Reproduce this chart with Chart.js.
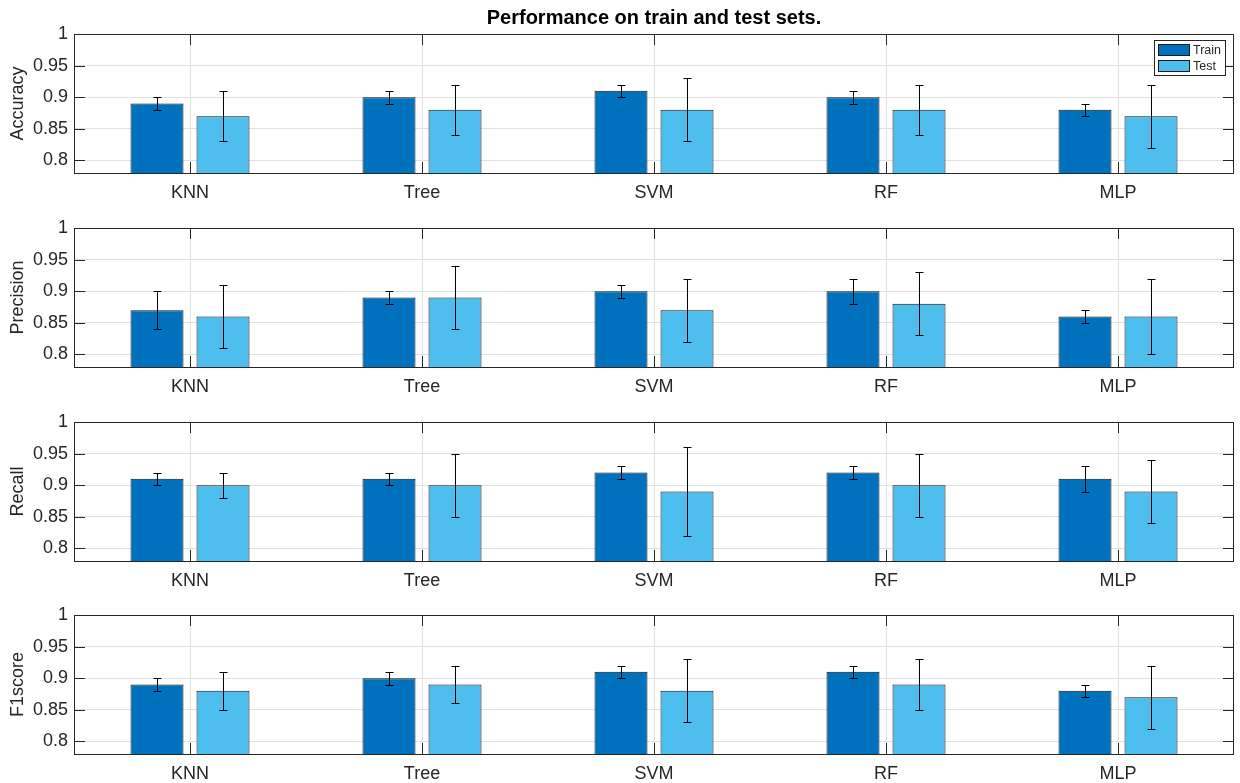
<!DOCTYPE html>
<html>
<head>
<meta charset="utf-8">
<script src="https://cdn.jsdelivr.net/npm/chart.js@4.4.1/dist/chart.umd.min.js"></script>
<style>
  html, body { margin: 0; padding: 0; background: #fff; overflow: hidden; }
  #wrap { position: relative; width: 1240px; height: 783px; overflow: hidden; background: #fff; }
  #wrap canvas { position: absolute; left: 0; }
</style>
</head>
<body>
<div id="wrap"></div>
<script>
// ---- data ----
const CATEGORIES = ['KNN', 'Tree', 'SVM', 'RF', 'MLP'];
const METRICS = ['Accuracy', 'Precision', 'Recall', 'F1score'];
const SERIES = ['Train', 'Test'];
const Y_TICKS = [0.8, 0.85, 0.9, 0.95, 1];
const Y_MIN = 0.78;
const Y_MAX = 1;

const accuracyTrain    = [0.89, 0.90, 0.91, 0.90, 0.88];
const accuracyTrainErr = [0.01, 0.01, 0.01, 0.01, 0.01];
const accuracyTest     = [0.87, 0.88, 0.88, 0.88, 0.87];
const accuracyTestErr  = [0.04, 0.04, 0.05, 0.04, 0.05];

const precisionTrain    = [0.87, 0.89, 0.90, 0.90, 0.86];
const precisionTrainErr = [0.03, 0.01, 0.01, 0.02, 0.01];
const precisionTest     = [0.86, 0.89, 0.87, 0.88, 0.86];
const precisionTestErr  = [0.05, 0.05, 0.05, 0.05, 0.06];

const recallTrain    = [0.91, 0.91, 0.92, 0.92, 0.91];
const recallTrainErr = [0.01, 0.01, 0.01, 0.01, 0.02];
const recallTest     = [0.90, 0.90, 0.89, 0.90, 0.89];
const recallTestErr  = [0.02, 0.05, 0.07, 0.05, 0.05];

const f1Train    = [0.89, 0.90, 0.91, 0.91, 0.88];
const f1TrainErr = [0.01, 0.01, 0.01, 0.01, 0.01];
const f1Test     = [0.88, 0.89, 0.88, 0.89, 0.87];
const f1TestErr  = [0.03, 0.03, 0.05, 0.04, 0.05];

const PANELS = [
  { metric: METRICS[0], train: accuracyTrain,  trainErr: accuracyTrainErr,  test: accuracyTest,  testErr: accuracyTestErr },
  { metric: METRICS[1], train: precisionTrain, trainErr: precisionTrainErr, test: precisionTest, testErr: precisionTestErr },
  { metric: METRICS[2], train: recallTrain,    trainErr: recallTrainErr,    test: recallTest,    testErr: recallTestErr },
  { metric: METRICS[3], train: f1Train,        trainErr: f1TrainErr,        test: f1Test,        testErr: f1TestErr }
];

// ---- styling ----
const FONT = '"Liberation Sans", Arial, Helvetica, sans-serif';
const TEXT = '#262626';
const AXIS = '#262626';
const GRID = '#e0e0e0';
const COLORS = ['#0072BD', '#4DBEEE'];
const TICK_LEN = 11;
const CANVAS_TOPS = [0, 194, 388, 581];
const CANVAS_H = 214;

Chart.defaults.font.family = FONT;
Chart.defaults.color = TEXT;

// symmetric error bars from each dataset's `errors` array
const errorBars = {
  id: 'errorBars',
  afterDatasetsDraw(chart) {
    const { ctx } = chart;
    const y = chart.scales.y;
    ctx.save();
    ctx.strokeStyle = '#000';
    ctx.lineWidth = 1;
    chart.data.datasets.forEach((ds, di) => {
      const meta = chart.getDatasetMeta(di);
      meta.data.forEach((bar, i) => {
        const v = ds.data[i];
        const e = ds.errors[i];
        const x = Math.round(bar.x) + 0.5;
        const yt = Math.round(y.getPixelForValue(v + e)) + 0.5;
        const yb = Math.round(y.getPixelForValue(v - e)) + 0.5;
        const cap = 4;
        ctx.beginPath();
        ctx.moveTo(x, yt); ctx.lineTo(x, yb);
        ctx.moveTo(x - cap, yt); ctx.lineTo(x + cap, yt);
        ctx.moveTo(x - cap, yb); ctx.lineTo(x + cap, yb);
        ctx.stroke();
      });
    });
    ctx.restore();
  }
};

// inward tick marks and the closed axes box
const axesFrame = {
  id: 'axesFrame',
  beforeDatasetsDraw(chart) {
    const { ctx, chartArea: a, scales: { x, y } } = chart;
    ctx.save();
    ctx.strokeStyle = AXIS;
    ctx.lineWidth = 1;
    ctx.beginPath();
    x.ticks.forEach((t, i) => {
      const px = Math.round(x.getPixelForTick(i)) + 0.5;
      ctx.moveTo(px, a.top); ctx.lineTo(px, a.top + TICK_LEN);
      ctx.moveTo(px, a.bottom); ctx.lineTo(px, a.bottom - TICK_LEN);
    });
    y.ticks.forEach(t => {
      const py = Math.round(y.getPixelForValue(t.value)) + 0.5;
      ctx.moveTo(a.left, py); ctx.lineTo(a.left + TICK_LEN, py);
      ctx.moveTo(a.right, py); ctx.lineTo(a.right - TICK_LEN, py);
    });
    ctx.stroke();
    ctx.restore();
  },
  afterDraw(chart) {
    const { ctx, chartArea: a } = chart;
    ctx.save();
    ctx.strokeStyle = AXIS;
    ctx.lineWidth = 1;
    ctx.strokeRect(Math.round(a.left) + 0.5, Math.round(a.top) + 0.5,
                   Math.round(a.right - a.left) - 1, Math.round(a.bottom - a.top));
    ctx.restore();
  }
};

// boxed legend in the upper right corner of the plot area
const boxLegend = {
  id: 'boxLegend',
  afterDraw(chart) {
    const { ctx, chartArea: a } = chart;
    const w = 71, h = 35;
    const bx = Math.round(a.right) - 9 - w, by = Math.round(a.top) + 6;
    ctx.save();
    ctx.fillStyle = '#fff';
    ctx.fillRect(bx, by, w, h);
    ctx.strokeStyle = AXIS;
    ctx.lineWidth = 1;
    ctx.strokeRect(bx + 0.5, by + 0.5, w, h);
    ctx.font = '12.5px ' + FONT;
    ctx.textBaseline = 'middle';
    ctx.textAlign = 'left';
    chart.data.datasets.forEach((ds, i) => {
      const sy = by + 4 + i * 16;
      ctx.fillStyle = ds.backgroundColor;
      ctx.fillRect(bx + 4, sy, 32, 12);
      ctx.strokeStyle = '#1a1a1a';
      ctx.strokeRect(bx + 4.5, sy + 0.5, 31, 11);
      ctx.fillStyle = TEXT;
      ctx.fillText(ds.label, bx + 39, sy + 6.5);
    });
    ctx.restore();
  }
};

const wrap = document.getElementById('wrap');

PANELS.forEach((p, idx) => {
  const canvas = document.createElement('canvas');
  canvas.width = 1240;
  canvas.height = CANVAS_H;
  canvas.style.top = CANVAS_TOPS[idx] + 'px';
  canvas.style.width = '1240px';
  canvas.style.height = CANVAS_H + 'px';
  wrap.appendChild(canvas);

  const plugins = [axesFrame, errorBars];
  if (idx === 0) plugins.push(boxLegend);

  new Chart(canvas, {
    type: 'bar',
    data: {
      labels: CATEGORIES,
      datasets: [
        { label: SERIES[0], data: p.train, errors: p.trainErr, backgroundColor: COLORS[0],
          borderColor: '#111', borderWidth: 1, borderSkipped: 'start', base: Y_MIN },
        { label: SERIES[1], data: p.test, errors: p.testErr, backgroundColor: COLORS[1],
          borderColor: '#111', borderWidth: 1, borderSkipped: 'start', base: Y_MIN }
      ]
    },
    options: {
      responsive: false,
      animation: false,
      devicePixelRatio: 1,
      categoryPercentage: 0.569,
      barPercentage: 0.803,
      layout: { padding: { top: idx === 0 ? 0 : 34, right: 6, left: 0, bottom: 0 } },
      plugins: {
        legend: { display: false },
        tooltip: { enabled: false },
        title: {
          display: idx === 0,
          fullSize: false,
          text: 'Performance on train and test sets.',
          color: '#000',
          font: { size: 20, weight: 'bold', family: FONT },
          padding: { top: 6, bottom: 4 }
        }
      },
      scales: {
        x: {
          type: 'category',
          offset: true,
          grid: { offset: false, color: GRID, drawTicks: false },
          border: { display: false },
          ticks: { color: TEXT, font: { size: 18 }, padding: 9, maxRotation: 0, autoSkip: false },
          afterFit(s) { s.height = CANVAS_H - 34 - 139; }
        },
        y: {
          min: Y_MIN,
          max: Y_MAX,
          grid: { color: GRID, drawTicks: false },
          border: { display: false },
          afterBuildTicks(s) { s.ticks = Y_TICKS.map(v => ({ value: v })); },
          ticks: {
            color: TEXT,
            font: { size: 18 },
            padding: 6,
            callback: v => String(+Number(v).toFixed(4))
          },
          title: {
            display: true,
            text: p.metric,
            color: TEXT,
            font: { size: 18 },
            padding: { top: 7.5, bottom: 0 }
          },
          afterFit(s) { s.width = 74; }
        }
      }
    },
    plugins
  });
});
</script>
</body>
</html>
